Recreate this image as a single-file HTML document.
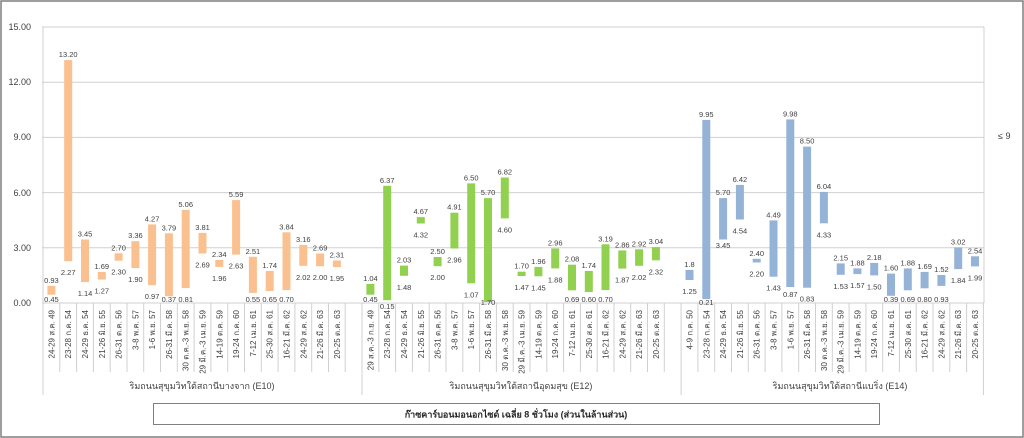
<!DOCTYPE html>
<html><head><meta charset="utf-8"><style>
html,body{margin:0;padding:0;background:#fff}
svg{display:block;font-family:"Liberation Sans","Noto Sans CJK SC",sans-serif}
.v{font-size:7.5px;fill:#404040;text-anchor:middle}
.c{font-size:8px;fill:#404040;text-anchor:end;font-family:"Liberation Sans","Noto Sans CJK SC",sans-serif}
.y{font-size:9px;fill:#404040;text-anchor:end}
.o{fill:#FAC090}.g{fill:#92D050}.b{fill:#95B3D7}
</style></head><body>
<svg width="1024" height="438" viewBox="0 0 1024 438">
<rect x="1" y="1" width="1022" height="436" fill="#fff" stroke="#7f7f7f" stroke-width="1.5"/>
<g stroke="#d0d0d0" stroke-width="1">
<line x1="42" y1="27" x2="984" y2="27"/><line x1="42" y1="82.2" x2="984" y2="82.2"/><line x1="42" y1="137.4" x2="984" y2="137.4"/><line x1="42" y1="192.6" x2="984" y2="192.6"/><line x1="42" y1="247.8" x2="984" y2="247.8"/><line x1="42" y1="303" x2="984" y2="303"/>
<line x1="43" y1="27" x2="43" y2="303"/><line x1="984" y1="27" x2="984" y2="303"/>
</g>
<g class="y"><text x="31" y="30">15.00</text><text x="31" y="85">12.00</text><text x="31" y="140">9.00</text><text x="31" y="196">6.00</text><text x="31" y="251">3.00</text><text x="31" y="306">0.00</text></g>
<text x="998" y="139" style="font-size:9px;fill:#404040">≤ 9</text>
<g stroke="#d0d0d0" stroke-width="1">
<line x1="43" y1="303" x2="43" y2="395"/><line x1="59.8" y1="303" x2="59.8" y2="372"/><line x1="76.6" y1="303" x2="76.6" y2="372"/><line x1="93.4" y1="303" x2="93.4" y2="372"/><line x1="110.2" y1="303" x2="110.2" y2="372"/><line x1="127" y1="303" x2="127" y2="372"/><line x1="143.7" y1="303" x2="143.7" y2="372"/><line x1="160.5" y1="303" x2="160.5" y2="372"/><line x1="177.3" y1="303" x2="177.3" y2="372"/><line x1="194.1" y1="303" x2="194.1" y2="372"/><line x1="210.9" y1="303" x2="210.9" y2="372"/><line x1="227.7" y1="303" x2="227.7" y2="372"/><line x1="244.5" y1="303" x2="244.5" y2="372"/><line x1="261.3" y1="303" x2="261.3" y2="372"/><line x1="278.1" y1="303" x2="278.1" y2="372"/><line x1="294.9" y1="303" x2="294.9" y2="372"/><line x1="311.7" y1="303" x2="311.7" y2="372"/><line x1="328.5" y1="303" x2="328.5" y2="372"/><line x1="345.2" y1="303" x2="345.2" y2="372"/>
<line x1="362" y1="303" x2="362" y2="395"/><line x1="378.8" y1="303" x2="378.8" y2="372"/><line x1="395.6" y1="303" x2="395.6" y2="372"/><line x1="412.4" y1="303" x2="412.4" y2="372"/><line x1="429.2" y1="303" x2="429.2" y2="372"/><line x1="446" y1="303" x2="446" y2="372"/><line x1="462.8" y1="303" x2="462.8" y2="372"/><line x1="479.6" y1="303" x2="479.6" y2="372"/><line x1="496.4" y1="303" x2="496.4" y2="372"/><line x1="513.2" y1="303" x2="513.2" y2="372"/><line x1="530" y1="303" x2="530" y2="372"/><line x1="546.8" y1="303" x2="546.8" y2="372"/><line x1="563.6" y1="303" x2="563.6" y2="372"/><line x1="580.4" y1="303" x2="580.4" y2="372"/><line x1="597.2" y1="303" x2="597.2" y2="372"/><line x1="614" y1="303" x2="614" y2="372"/><line x1="630.7" y1="303" x2="630.7" y2="372"/><line x1="647.5" y1="303" x2="647.5" y2="372"/><line x1="664.3" y1="303" x2="664.3" y2="372"/>
<line x1="681.1" y1="303" x2="681.1" y2="395"/><line x1="697.9" y1="303" x2="697.9" y2="372"/><line x1="714.7" y1="303" x2="714.7" y2="372"/><line x1="731.5" y1="303" x2="731.5" y2="372"/><line x1="748.3" y1="303" x2="748.3" y2="372"/><line x1="765.1" y1="303" x2="765.1" y2="372"/><line x1="781.9" y1="303" x2="781.9" y2="372"/><line x1="798.7" y1="303" x2="798.7" y2="372"/><line x1="815.5" y1="303" x2="815.5" y2="372"/><line x1="832.3" y1="303" x2="832.3" y2="372"/><line x1="849.1" y1="303" x2="849.1" y2="372"/><line x1="865.9" y1="303" x2="865.9" y2="372"/><line x1="882.7" y1="303" x2="882.7" y2="372"/><line x1="899.4" y1="303" x2="899.4" y2="372"/><line x1="916.2" y1="303" x2="916.2" y2="372"/><line x1="933" y1="303" x2="933" y2="372"/><line x1="949.8" y1="303" x2="949.8" y2="372"/><line x1="966.6" y1="303" x2="966.6" y2="372"/><line x1="983.4" y1="303" x2="983.4" y2="395"/>
</g>
<g class="o">
<rect x="47.4" y="285.9" width="8" height="8.8"/><rect x="64.2" y="60.1" width="8" height="201.1"/><rect x="81" y="239.5" width="8" height="42.5"/><rect x="97.8" y="271.9" width="8" height="7.7"/><rect x="114.6" y="253.3" width="8" height="7.4"/><rect x="131.4" y="241.2" width="8" height="26.8"/><rect x="148.1" y="224.4" width="8" height="60.8"/><rect x="164.9" y="233.3" width="8" height="62.9"/><rect x="181.7" y="209.9" width="8" height="78.2"/><rect x="198.5" y="232.9" width="8" height="20.6"/><rect x="215.3" y="259.9" width="8" height="7"/><rect x="232.1" y="200.1" width="8" height="54.5"/><rect x="248.9" y="256.8" width="8" height="36.1"/><rect x="265.7" y="271" width="8" height="20"/><rect x="282.5" y="232.3" width="8" height="57.8"/><rect x="299.3" y="244.9" width="8" height="20.9"/><rect x="316.1" y="253.5" width="8" height="12.7"/><rect x="332.9" y="260.5" width="8" height="6.6"/>
</g>
<g class="g">
<rect x="366.4" y="283.9" width="8" height="10.8"/><rect x="383.2" y="185.8" width="8" height="114.4"/><rect x="400" y="265.6" width="8" height="10.2"/><rect x="416.8" y="217.1" width="8" height="6.4"/><rect x="433.6" y="257" width="8" height="9.2"/><rect x="450.4" y="212.7" width="8" height="35.8"/><rect x="467.2" y="183.4" width="8" height="99.9"/><rect x="484" y="198.1" width="8" height="103.9"/><rect x="500.8" y="177.5" width="8" height="40.9"/><rect x="517.6" y="271.7" width="8" height="4.3"/><rect x="534.4" y="266.9" width="8" height="9.4"/><rect x="551.2" y="248.5" width="8" height="19.9"/><rect x="568" y="264.7" width="8" height="25.6"/><rect x="584.8" y="271" width="8" height="21"/><rect x="601.5" y="244.3" width="8" height="45.8"/><rect x="618.3" y="250.4" width="8" height="18.2"/><rect x="635.1" y="249.3" width="8" height="16.5"/><rect x="651.9" y="247.1" width="8" height="13.2"/>
</g>
<g class="b">
<rect x="685.5" y="269.9" width="8" height="10.1"/><rect x="702.3" y="119.9" width="8" height="179.2"/><rect x="719.1" y="198.1" width="8" height="41.4"/><rect x="735.9" y="184.9" width="8" height="34.6"/><rect x="752.7" y="258.8" width="8" height="3.7"/><rect x="769.5" y="220.4" width="8" height="56.3"/><rect x="786.3" y="119.4" width="8" height="167.6"/><rect x="803.1" y="146.6" width="8" height="141.1"/><rect x="819.9" y="191.9" width="8" height="31.4"/><rect x="836.7" y="263.4" width="8" height="11.4"/><rect x="853.4" y="268.4" width="8" height="5.7"/><rect x="870.2" y="262.9" width="8" height="12.5"/><rect x="887" y="273.6" width="8" height="22.2"/><rect x="903.8" y="268.4" width="8" height="21.9"/><rect x="920.6" y="271.9" width="8" height="16.4"/><rect x="937.4" y="275" width="8" height="10.9"/><rect x="954.2" y="247.4" width="8" height="21.7"/><rect x="971" y="256.3" width="8" height="10.1"/>
</g>
<g class="v">
<text x="51.4" y="283">0.93</text><text x="51.4" y="302">0.45</text>
<text x="68.2" y="57">13.20</text><text x="68.2" y="275">2.27</text>
<text x="85" y="236.5">3.45</text><text x="85" y="296">1.14</text>
<text x="101.8" y="269">1.69</text><text x="101.8" y="293.6">1.27</text>
<text x="118.6" y="250.3">2.70</text><text x="118.6" y="274.7">2.30</text>
<text x="135.4" y="238.2">3.36</text><text x="135.4" y="282">1.90</text>
<text x="152.1" y="221.4">4.27</text><text x="152.1" y="299">0.97</text>
<text x="168.9" y="230.3">3.79</text><text x="168.9" y="302">0.37</text>
<text x="185.7" y="206.9">5.06</text><text x="185.7" y="302">0.81</text>
<text x="202.5" y="229.9">3.81</text><text x="202.5" y="267.5">2.69</text>
<text x="219.3" y="256.9">2.34</text><text x="219.3" y="280.9">1.96</text>
<text x="236.1" y="197.1">5.59</text><text x="236.1" y="268.6">2.63</text>
<text x="252.9" y="253.8">2.51</text><text x="252.9" y="302">0.55</text>
<text x="269.7" y="268">1.74</text><text x="269.7" y="302">0.65</text>
<text x="286.5" y="229.3">3.84</text><text x="286.5" y="302">0.70</text>
<text x="303.3" y="241.9">3.16</text><text x="303.3" y="279.8">2.02</text>
<text x="320.1" y="250.5">2.69</text><text x="320.1" y="280.2">2.00</text>
<text x="336.9" y="257.5">2.31</text><text x="336.9" y="281.1">1.95</text>

<text x="370.4" y="280.9">1.04</text><text x="370.4" y="302">0.45</text>
<text x="387.2" y="182.8">6.37</text><text x="387.2" y="309">0.15</text>
<text x="404" y="262.6">2.03</text><text x="404" y="289.8">1.48</text>
<text x="420.8" y="214.1">4.67</text><text x="420.8" y="237.5">4.32</text>
<text x="437.6" y="254">2.50</text><text x="437.6" y="280.2">2.00</text>
<text x="454.4" y="209.7">4.91</text><text x="454.4" y="262.5">2.96</text>
<text x="471.2" y="180.4">6.50</text><text x="471.2" y="297.3">1.07</text>
<text x="488" y="195.1">5.70</text><text x="488" y="305">1.70</text>
<text x="504.8" y="174.5">6.82</text><text x="504.8" y="232.4">4.60</text>
<text x="521.6" y="268.7">1.70</text><text x="521.6" y="290">1.47</text>
<text x="538.4" y="263.9">1.96</text><text x="538.4" y="290.3">1.45</text>
<text x="555.2" y="245.5">2.96</text><text x="555.2" y="282.4">1.88</text>
<text x="572" y="261.7">2.08</text><text x="572" y="302">0.69</text>
<text x="588.8" y="268">1.74</text><text x="588.8" y="302">0.60</text>
<text x="605.5" y="241.3">3.19</text><text x="605.5" y="302">0.70</text>
<text x="622.3" y="247.4">2.86</text><text x="622.3" y="282.6">1.87</text>
<text x="639.1" y="246.3">2.92</text><text x="639.1" y="279.8">2.02</text>
<text x="655.9" y="244.1">3.04</text><text x="655.9" y="274.3">2.32</text>

<text x="689.5" y="266.9">1.8</text><text x="689.5" y="294">1.25</text>
<text x="706.3" y="116.9">9.95</text><text x="706.3" y="305">0.21</text>
<text x="723.1" y="195.1">5.70</text><text x="723.1" y="248">3.45</text>
<text x="739.9" y="181.9">6.42</text><text x="739.9" y="233.5">4.54</text>
<text x="756.7" y="255.8">2.40</text><text x="756.7" y="276.5">2.20</text>
<text x="773.5" y="217.4">4.49</text><text x="773.5" y="290.7">1.43</text>
<text x="790.3" y="116.4">9.98</text><text x="790.3" y="297">0.87</text>
<text x="807.1" y="143.6">8.50</text><text x="807.1" y="301.7">0.83</text>
<text x="823.9" y="188.9">6.04</text><text x="823.9" y="237.3">4.33</text>
<text x="840.7" y="260.4">2.15</text><text x="840.7" y="288.8">1.53</text>
<text x="857.4" y="265.4">1.88</text><text x="857.4" y="288.1">1.57</text>
<text x="874.2" y="259.9">2.18</text><text x="874.2" y="289.4">1.50</text>
<text x="891" y="270.6">1.60</text><text x="891" y="302">0.39</text>
<text x="907.8" y="265.4">1.88</text><text x="907.8" y="302">0.69</text>
<text x="924.6" y="268.9">1.69</text><text x="924.6" y="302">0.80</text>
<text x="941.4" y="272">1.52</text><text x="941.4" y="302">0.93</text>
<text x="958.2" y="244.4">3.02</text><text x="958.2" y="283.1">1.84</text>
<text x="975" y="253.3">2.54</text><text x="975" y="280.4">1.99</text>
</g>
<g class="c">
<text transform="translate(54.4,310) rotate(-90)">24-29 ส.ค. 49</text>
<text transform="translate(71.2,310) rotate(-90)">23-28 ก.ค. 54</text>
<text transform="translate(88,310) rotate(-90)">24-29 ธ.ค. 54</text>
<text transform="translate(104.8,310) rotate(-90)">21-26 มิ.ย. 55</text>
<text transform="translate(121.6,310) rotate(-90)">26-31 ต.ค. 56</text>
<text transform="translate(138.4,310) rotate(-90)">3-8 พ.ค. 57</text>
<text transform="translate(155.1,310) rotate(-90)">1-6 พ.ย. 57</text>
<text transform="translate(171.9,310) rotate(-90)">26-31 มี.ค. 58</text>
<text transform="translate(188.7,310) rotate(-90)">30 ต.ค.-3 พ.ย. 58</text>
<text transform="translate(205.5,310) rotate(-90)">29 มี.ค.-3 เม.ย. 59</text>
<text transform="translate(222.3,310) rotate(-90)">14-19 ต.ค. 59</text>
<text transform="translate(239.1,310) rotate(-90)">19-24 ก.ค. 60</text>
<text transform="translate(255.9,310) rotate(-90)">7-12 เม.ย. 61</text>
<text transform="translate(272.7,310) rotate(-90)">25-30 ส.ค. 61</text>
<text transform="translate(289.5,310) rotate(-90)">16-21 มี.ค. 62</text>
<text transform="translate(306.3,310) rotate(-90)">24-29 ส.ค. 62</text>
<text transform="translate(323.1,310) rotate(-90)">21-26 มี.ค. 63</text>
<text transform="translate(339.9,310) rotate(-90)">20-25 ต.ค. 63</text>

<text transform="translate(373.4,310) rotate(-90)">29 ส.ค.-3 ก.ย. 49</text>
<text transform="translate(390.2,310) rotate(-90)">23-28 ก.ค. 54</text>
<text transform="translate(407,310) rotate(-90)">24-29 ธ.ค. 54</text>
<text transform="translate(423.8,310) rotate(-90)">21-26 มิ.ย. 55</text>
<text transform="translate(440.6,310) rotate(-90)">26-31 ต.ค. 56</text>
<text transform="translate(457.4,310) rotate(-90)">3-8 พ.ค. 57</text>
<text transform="translate(474.2,310) rotate(-90)">1-6 พ.ย. 57</text>
<text transform="translate(491,310) rotate(-90)">26-31 มี.ค. 58</text>
<text transform="translate(507.8,310) rotate(-90)">30 ต.ค.-3 พ.ย. 58</text>
<text transform="translate(524.6,310) rotate(-90)">29 มี.ค.-3 เม.ย. 59</text>
<text transform="translate(541.4,310) rotate(-90)">14-19 ต.ค. 59</text>
<text transform="translate(558.2,310) rotate(-90)">19-24 ก.ค. 60</text>
<text transform="translate(575,310) rotate(-90)">7-12 เม.ย. 61</text>
<text transform="translate(591.8,310) rotate(-90)">25-30 ส.ค. 61</text>
<text transform="translate(608.5,310) rotate(-90)">16-21 มี.ค. 62</text>
<text transform="translate(625.3,310) rotate(-90)">24-29 ส.ค. 62</text>
<text transform="translate(642.1,310) rotate(-90)">21-26 มี.ค. 63</text>
<text transform="translate(658.9,310) rotate(-90)">20-25 ต.ค. 63</text>

<text transform="translate(692.5,310) rotate(-90)">4-9 ก.ค. 50</text>
<text transform="translate(709.3,310) rotate(-90)">23-28 ก.ค. 54</text>
<text transform="translate(726.1,310) rotate(-90)">24-29 ธ.ค. 54</text>
<text transform="translate(742.9,310) rotate(-90)">21-26 มิ.ย. 55</text>
<text transform="translate(759.7,310) rotate(-90)">26-31 ต.ค. 56</text>
<text transform="translate(776.5,310) rotate(-90)">3-8 พ.ค. 57</text>
<text transform="translate(793.3,310) rotate(-90)">1-6 พ.ย. 57</text>
<text transform="translate(810.1,310) rotate(-90)">26-31 มี.ค. 58</text>
<text transform="translate(826.9,310) rotate(-90)">30 ต.ค.-3 พ.ย. 58</text>
<text transform="translate(843.7,310) rotate(-90)">29 มี.ค.-3 เม.ย. 59</text>
<text transform="translate(860.4,310) rotate(-90)">14-19 ต.ค. 59</text>
<text transform="translate(877.2,310) rotate(-90)">19-24 ก.ค. 60</text>
<text transform="translate(894,310) rotate(-90)">7-12 เม.ย. 61</text>
<text transform="translate(910.8,310) rotate(-90)">25-30 ส.ค. 61</text>
<text transform="translate(927.6,310) rotate(-90)">16-21 มี.ค. 62</text>
<text transform="translate(944.4,310) rotate(-90)">24-29 ส.ค. 62</text>
<text transform="translate(961.2,310) rotate(-90)">21-26 มี.ค. 63</text>
<text transform="translate(978,310) rotate(-90)">20-25 ต.ค. 63</text>
</g>
<g style="font-size:9px;fill:#404040;text-anchor:middle">
<text x="202" y="389">ริมถนนสุขุมวิทใต้สถานีบางจาก (E10)</text>
<text x="521" y="389">ริมถนนสุขุมวิทใต้สถานีอุดมสุข (E12)</text>
<text x="840" y="389">ริมถนนสุขุมวิทใต้สถานีแบริ่ง (E14)</text>
</g>
<rect x="153.5" y="403.5" width="726" height="21" fill="#fff" stroke="#7f7f7f" stroke-width="1"/>
<text x="516" y="417.5" style="font-size:9px;font-weight:bold;fill:#262626;text-anchor:middle">ก๊าซคาร์บอนมอนอกไซด์ เฉลี่ย 8 ชั่วโมง (ส่วนในล้านส่วน)</text>
</svg>
</body></html>
